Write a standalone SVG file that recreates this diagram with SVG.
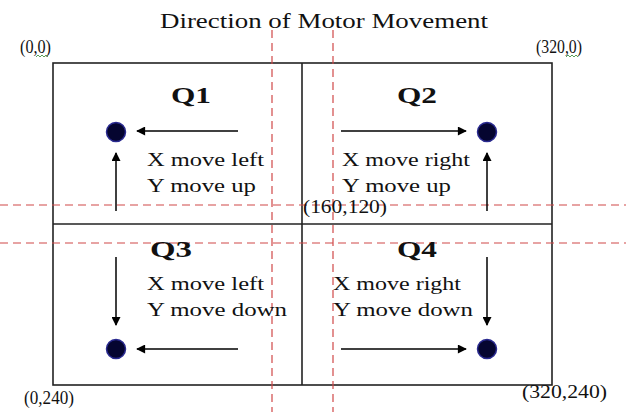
<svg xmlns="http://www.w3.org/2000/svg" width="626" height="412" viewBox="0 0 626 412">
<defs>
<marker id="ah" viewBox="0 0 10 10" refX="9" refY="5" markerWidth="10" markerHeight="9" markerUnits="userSpaceOnUse" orient="auto">
<path d="M0,0 L10,5 L0,10 z" fill="#000"/>
</marker>
<style>
text{font-family:"Liberation Serif","Times New Roman",serif;fill:#111}
.t{font-size:20px}
.c{font-size:18px}
.l{font-size:18px}
.q{font-size:24px;font-weight:bold}
.frame{fill:none;stroke:#222;stroke-width:1.6}
.div{stroke:#222;stroke-width:1.6}
.guide{stroke:#d04848;stroke-width:1.2;stroke-dasharray:8,5;fill:none}
.arr{stroke:#000;stroke-width:1.5;fill:none;marker-end:url(#ah)}
.dot{fill:#050530;stroke:#2a2a90;stroke-width:1.5}
.sq{fill:none;stroke:#5aa05a;stroke-width:1}
</style>
</defs>
<rect width="626" height="412" fill="#fff"/>
<text class="t" x="160" y="28" textLength="328" lengthAdjust="spacingAndGlyphs">Direction of Motor Movement</text>
<g id="frame">
<rect class="frame" x="53" y="63" width="499" height="322"/>
<line class="div" x1="302" y1="63" x2="302" y2="385"/>
<line class="div" x1="53" y1="224" x2="552" y2="224"/>
</g>
<g id="guides">
<line class="guide" x1="272" y1="30" x2="272" y2="412"/>
<line class="guide" x1="333" y1="30" x2="333" y2="412"/>
<line class="guide" x1="0" y1="205" x2="626" y2="205"/>
<line class="guide" x1="0" y1="243" x2="626" y2="243"/>
</g>
<g id="corners">
<text class="c" x="20" y="53" textLength="31" lengthAdjust="spacingAndGlyphs">(0,0)</text>
<polyline class="sq" points="36,57 38,55 40,57 42,55 44,57 46,55 48,57"/>
<text class="c" x="536" y="53" textLength="46" lengthAdjust="spacingAndGlyphs">(320,0)</text>
<polyline class="sq" points="566,57 568,55 570,57 572,55 574,57 576,55 578,57"/>
<text class="c" x="303" y="213" textLength="84" lengthAdjust="spacingAndGlyphs">(160,120)</text>
<text class="c" x="24" y="404" textLength="50" lengthAdjust="spacingAndGlyphs">(0,240)</text>
<text class="c" x="522" y="398" textLength="85" lengthAdjust="spacingAndGlyphs">(320,240)</text>
</g>
<g id="connectors">
<line class="arr" x1="238" y1="131" x2="137" y2="131"/>
<line class="arr" x1="116" y1="211" x2="116" y2="153"/>
<line class="arr" x1="341" y1="131" x2="466" y2="131"/>
<line class="arr" x1="487" y1="211" x2="487" y2="153"/>
<line class="arr" x1="116" y1="257" x2="116" y2="325"/>
<line class="arr" x1="238" y1="349" x2="137" y2="349"/>
<line class="arr" x1="487" y1="257" x2="487" y2="325"/>
<line class="arr" x1="341" y1="349" x2="466" y2="349"/>
</g>
<g id="q1">
<text class="q" x="171" y="103" textLength="40" lengthAdjust="spacingAndGlyphs">Q1</text>
<circle class="dot" cx="116" cy="132" r="9.5"/>
<text class="l" x="147" y="166" textLength="117" lengthAdjust="spacingAndGlyphs">X move left</text>
<text class="l" x="147" y="192" textLength="109" lengthAdjust="spacingAndGlyphs">Y move up</text>
</g>
<g id="q2">
<text class="q" x="397" y="103" textLength="40" lengthAdjust="spacingAndGlyphs">Q2</text>
<circle class="dot" cx="487" cy="132" r="9.5"/>
<text class="l" x="342" y="166" textLength="128" lengthAdjust="spacingAndGlyphs">X move right</text>
<text class="l" x="342" y="192" textLength="109" lengthAdjust="spacingAndGlyphs">Y move up</text>
</g>
<g id="q3">
<text class="q" x="150" y="257" textLength="42" lengthAdjust="spacingAndGlyphs">Q3</text>
<circle class="dot" cx="116" cy="349" r="9.5"/>
<text class="l" x="147" y="290" textLength="117" lengthAdjust="spacingAndGlyphs">X move left</text>
<text class="l" x="147" y="316" textLength="140" lengthAdjust="spacingAndGlyphs">Y move down</text>
</g>
<g id="q4">
<text class="q" x="397" y="257" textLength="40" lengthAdjust="spacingAndGlyphs">Q4</text>
<circle class="dot" cx="487" cy="349" r="9.5"/>
<text class="l" x="333" y="290" textLength="128" lengthAdjust="spacingAndGlyphs">X move right</text>
<text class="l" x="333" y="316" textLength="140" lengthAdjust="spacingAndGlyphs">Y move down</text>
</g>
</svg>
